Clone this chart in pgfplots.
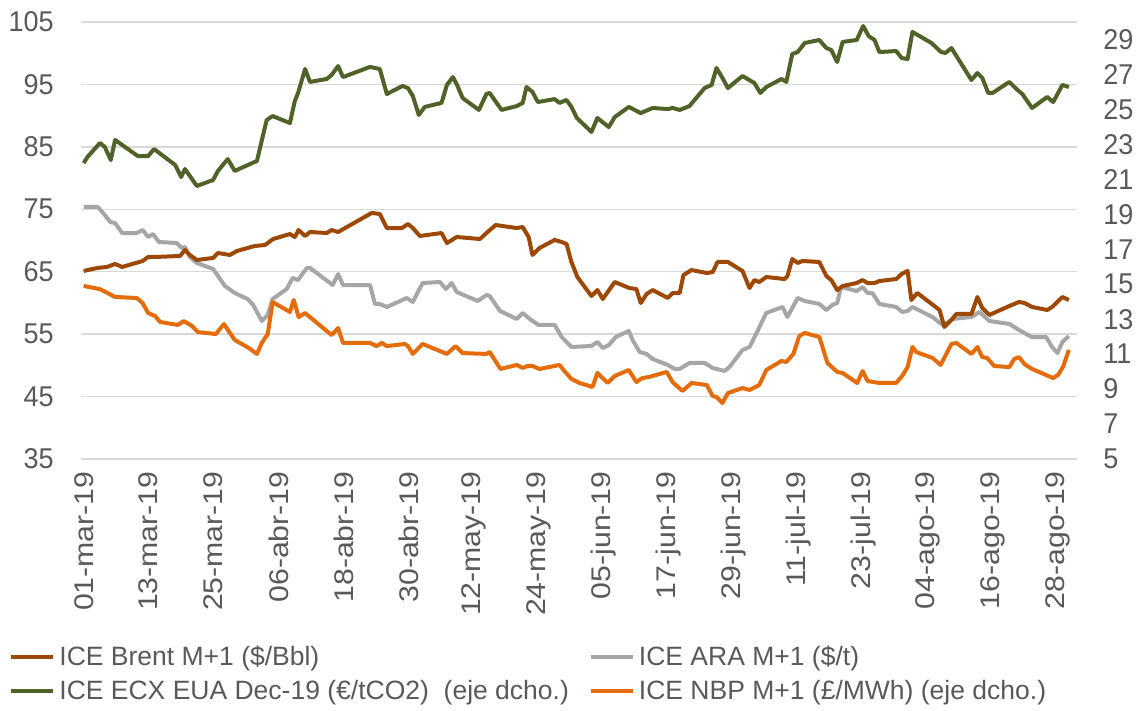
\documentclass[border=0pt]{standalone}
\usepackage{pgfplots}
\pgfplotsset{compat=1.18}
\usepackage{pgfplotstable}
\usepackage{fontspec}
\setmainfont{Liberation Sans}
\definecolor{cbrent}{RGB}{158,72,6}
\definecolor{cara}{RGB}{166,166,166}
\definecolor{ceua}{RGB}{79,98,40}
\definecolor{cnbp}{RGB}{228,108,10}
\definecolor{ctxt}{RGB}{89,89,89}
\definecolor{cgrid}{RGB}{217,217,217}

\pgfplotstableread{
x y
0 65.12
2.5 65.60
4.3 65.76
5.8 66.24
7.1 65.76
10.9 66.72
11.9 67.36
13.2 67.36
17.8 67.52
18.7 68.48
19.6 67.68
20.9 66.88
23.9 67.20
24.8 68.00
27.0 67.68
28.3 68.32
31.6 69.12
33.5 69.28
35.0 70.24
38.1 71.04
39.0 70.56
39.7 71.68
40.9 70.72
41.8 71.36
44.9 71.20
45.8 71.68
47.0 71.36
53.2 74.41
54.7 74.25
56.0 72.00
58.8 72.00
59.9 72.64
60.8 72.00
62.1 70.72
66.1 71.20
67.1 69.60
68.9 70.56
73.2 70.24
74.4 71.20
76.1 72.48
80.0 72.00
81.1 72.16
82.2 70.56
82.9 67.68
84.2 68.80
87.0 70.08
88.3 69.76
89.2 69.44
90.1 66.56
91.2 64.15
93.8 61.11
94.9 62.07
95.9 60.63
98.1 63.35
100.8 62.39
102.1 62.23
102.9 59.99
104.0 61.43
105.1 62.07
107.9 60.79
108.8 61.59
110.1 61.59
110.8 64.47
112.3 65.27
115.1 64.79
116.2 64.95
117.1 66.56
119.0 66.56
121.7 65.12
123.0 62.39
123.9 63.67
124.8 63.35
126.1 64.15
129.5 63.83
130.0 64.31
130.9 67.04
131.9 66.40
132.8 66.72
135.9 66.56
137.2 64.31
138.1 63.67
139.2 62.07
140.2 62.71
142.8 63.19
143.9 63.67
144.8 63.19
146.1 63.19
147.0 63.51
150.1 63.83
151.1 64.63
152.2 65.12
152.9 60.47
154.0 61.59
158.1 58.87
159.0 56.15
160.3 57.27
161.2 58.23
164.0 58.23
165.1 60.95
166.0 59.19
167.3 58.07
171.0 59.51
172.8 60.15
173.8 59.99
175.2 59.35
178.0 58.87
178.9 59.35
180.8 60.95
182.0 60.47
}\brent

\pgfplotstableread{
x y
0 75.37
2.6 75.37
3.9 74.08
4.9 72.96
5.8 72.80
7.1 71.20
9.8 71.20
10.9 71.68
11.9 70.56
12.8 71.04
13.9 69.76
17.2 69.60
18.1 68.80
18.7 68.96
19.6 67.36
20.9 66.40
23.9 65.44
26.1 62.71
27.9 61.59
30.3 60.63
31.3 59.67
32.9 57.11
34.0 58.07
34.9 60.63
37.5 62.23
38.6 64.00
39.6 63.67
41.2 65.60
41.8 65.60
46.0 62.87
47.0 64.63
47.9 62.87
52.9 62.87
53.8 59.83
54.7 59.83
56.0 59.35
59.7 60.79
60.8 60.15
62.6 63.19
65.8 63.35
66.9 62.23
68.0 63.19
68.9 61.75
72.8 60.31
74.4 61.27
75.0 61.11
76.9 58.71
80.0 57.43
81.1 58.39
82.4 57.43
84.0 56.47
87.0 56.47
88.3 54.54
90.1 52.94
93.8 53.10
94.9 53.74
95.9 52.78
97.0 53.26
98.3 54.54
100.7 55.50
101.4 54.06
102.7 52.14
104.0 51.82
105.1 51.02
107.9 50.06
109.2 49.42
110.1 49.42
111.9 50.38
114.7 50.38
116.2 49.58
118.4 49.10
119.3 49.74
121.7 52.46
123.0 52.94
124.3 55.18
126.1 58.39
129.1 59.35
130.0 57.75
131.9 60.79
133.2 60.31
135.9 59.83
137.2 58.87
138.3 59.67
139.2 59.99
139.9 62.55
142.8 61.91
143.9 62.55
144.8 61.59
145.7 61.59
147.0 59.83
150.1 59.35
151.2 58.55
152.2 58.71
153.1 59.35
156.8 57.75
158.4 56.63
159.4 56.79
160.5 57.43
164.0 57.75
165.5 58.55
167.3 57.11
171.0 56.63
172.8 55.66
175.1 54.54
177.8 54.54
178.9 52.94
179.9 51.98
180.8 53.74
182.0 54.70
}\ara

\pgfplotstableread{
x y
0 21.93
0.7 22.28
3.0 23.08
3.9 22.85
5.0 22.10
5.8 23.25
10.0 22.33
11.9 22.33
13.0 22.73
16.9 21.82
18.0 21.13
18.7 21.59
20.9 20.62
23.9 20.96
24.8 21.48
26.6 22.16
27.9 21.48
32.0 22.05
33.8 24.39
34.9 24.62
38.1 24.22
39.0 25.48
39.6 25.94
40.9 27.31
41.8 26.57
44.9 26.74
45.8 26.97
47.0 27.48
47.9 26.85
52.9 27.43
54.7 27.31
56.0 25.88
58.9 26.34
59.9 26.22
60.8 25.77
61.9 24.68
63.0 25.14
66.1 25.37
67.1 26.40
68.2 26.85
68.9 26.45
70.0 25.65
73.0 24.97
74.4 25.88
75.0 25.94
75.9 25.54
77.2 24.97
80.0 25.19
81.1 25.37
81.8 26.28
82.9 26.00
83.9 25.42
87.0 25.59
87.9 25.37
89.2 25.54
90.1 25.14
91.1 24.51
93.8 23.71
94.9 24.51
97.0 23.99
98.1 24.56
100.7 25.14
102.9 24.79
105.1 25.08
107.9 25.02
108.8 25.08
110.1 24.97
111.9 25.19
114.7 26.22
116.0 26.40
116.9 27.37
118.0 26.80
119.0 26.22
121.7 26.91
123.9 26.51
125.0 25.94
126.1 26.28
128.9 26.74
129.8 26.57
130.9 28.17
131.9 28.28
133.2 28.80
135.9 28.97
137.2 28.51
138.1 28.40
139.2 27.71
140.2 28.86
142.8 28.97
144.0 29.77
145.0 29.20
146.1 28.97
147.0 28.28
150.1 28.34
151.1 27.94
152.2 27.88
153.1 29.43
156.6 28.80
158.4 28.28
159.2 28.23
160.3 28.51
164.0 26.68
165.1 27.08
166.0 26.80
167.1 25.94
167.9 25.94
171.0 26.57
172.3 26.17
173.4 25.88
175.2 25.08
178.0 25.71
179.1 25.42
180.8 26.40
182.0 26.28
}\eua

\pgfplotstableread{
x y
0 14.90
3.0 14.72
5.8 14.27
9.8 14.21
10.9 13.92
11.9 13.35
13.2 13.18
14.1 12.84
17.4 12.67
18.5 12.89
20.0 12.61
21.1 12.26
24.4 12.15
25.9 12.72
27.9 11.81
30.5 11.35
32.0 11.01
32.9 11.64
34.0 12.15
34.9 13.98
38.1 13.41
38.8 14.10
39.7 13.12
40.9 13.35
45.8 12.09
47.0 12.49
47.9 11.64
52.9 11.64
54.1 11.46
55.1 11.64
56.0 11.46
59.3 11.58
59.9 11.46
60.8 11.01
62.6 11.58
67.1 11.01
68.7 11.46
70.0 11.06
74.4 11.01
75.0 11.12
77.0 10.15
80.0 10.38
81.1 10.21
82.0 10.32
82.9 10.32
84.2 10.15
87.9 10.38
88.8 10.03
90.1 9.58
91.6 9.35
94.0 9.12
94.9 9.92
96.8 9.35
98.1 9.75
100.7 10.09
102.1 9.40
103.2 9.63
104.4 9.69
107.7 9.98
108.8 9.40
110.6 8.89
112.3 9.35
115.1 9.23
116.2 8.60
116.9 8.55
118.0 8.20
119.0 8.77
121.7 9.06
123.0 8.95
124.8 9.23
126.1 10.09
128.9 10.61
129.8 10.55
131.1 11.01
132.2 12.04
133.2 12.21
135.9 11.98
137.4 10.49
139.2 9.98
140.2 9.92
142.9 9.35
143.9 10.03
144.8 9.46
147.0 9.35
150.1 9.35
151.2 9.75
152.2 10.26
153.1 11.41
153.8 11.12
156.8 10.78
158.3 10.38
160.3 11.58
161.2 11.64
164.0 11.01
165.1 11.41
166.0 10.83
166.9 10.78
168.2 10.32
171.0 10.26
171.9 10.72
172.8 10.83
173.8 10.43
175.2 10.15
179.1 9.63
180.0 9.81
180.9 10.26
182.0 11.24
}\nbp

\pgfplotsset{
  base/.style={
    scale only axis,
    width=498pt, height=218.5pt,
    at={(0pt,0pt)}, anchor=south west,
    xmin=-0.5, xmax=183.5,
    axis line style={draw=none},
    major tick length=0pt,
    tick label style={font=\fontsize{13.5}{16}\selectfont, text=ctxt},
    /pgf/number format/assume math mode=true,
    line join=round,
  }
}

\begin{document}
\begin{tikzpicture}
\path[use as bounding box] (-40.5pt,-126pt) rectangle (530pt,229.5pt);
\begin{axis}[base,
  ymin=35, ymax=105, ytick={35,45,...,105},
  ymajorgrids, grid style={cgrid, line width=0.7pt},
  yticklabel style={inner sep=0pt, yscale=1.06}, yticklabel shift=13.5pt,
  xtick={0,12,...,180},
  xticklabels={01-mar-19,13-mar-19,25-mar-19,06-abr-19,18-abr-19,30-abr-19,12-may-19,24-may-19,05-jun-19,17-jun-19,29-jun-19,11-jul-19,23-jul-19,04-ago-19,16-ago-19,28-ago-19},
  xticklabel style={rotate=90, anchor=east, inner sep=0pt, xscale=1.12},
  xticklabel shift=6pt,
]
\addplot[cara, line width=2pt] table[x=x,y=y] {\ara};
\addplot[cbrent, line width=2pt] table[x=x,y=y] {\brent};
\end{axis}
\begin{axis}[base,
  ymin=5, ymax=30, ytick={5,7,...,29},
  axis y line*=right, axis x line=none,
  yticklabel style={inner sep=0pt, anchor=west, yscale=1.06}, yticklabel shift=13pt,
  legend columns=2,
  legend style={draw=none, fill=none, at={(axis description cs:0,0)}, anchor=north west,
    xshift=-36pt, yshift=-91pt, font=\fontsize{13.25}{16}\selectfont, text=ctxt,
    /tikz/every even column/.append style={column sep=8pt},
    row sep=2pt, inner sep=0pt},
  legend image code/.code={\draw[#1] (0pt,0pt) -- (21pt,0pt);},
  legend cell align=left,
]
\addlegendimage{cbrent, line width=2pt}
\addlegendentry{ICE Brent M+1 (\$/Bbl)}
\addlegendimage{cara, line width=2pt}
\addlegendentry{ICE ARA M+1 (\$/t)}
\addlegendimage{ceua, line width=2pt}
\addlegendentry{ICE ECX EUA Dec-19 (€/tCO2)\ \ (eje dcho.)}
\addlegendimage{cnbp, line width=2pt}
\addlegendentry{ICE NBP M+1 (£/MWh) (eje dcho.)}
\addplot[ceua, line width=2pt, forget plot] table[x=x,y=y] {\eua};
\addplot[cnbp, line width=2pt, forget plot] table[x=x,y=y] {\nbp};
\end{axis}
\end{tikzpicture}
\end{document}
